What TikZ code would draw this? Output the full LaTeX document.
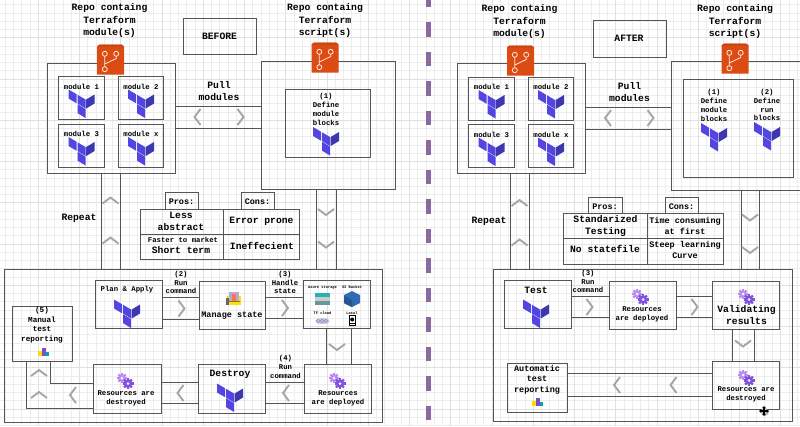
\documentclass[tikz,border=0pt]{standalone}
\usepackage{fontspec}
\setmainfont{Liberation Mono}
\usepackage{xcolor}
\usepackage{tikz}
\usetikzlibrary{positioning}
\usetikzlibrary{calc}

\definecolor{boxline}{HTML}{555555}
\definecolor{chevline}{HTML}{A6A6A6}
\definecolor{tfmain}{HTML}{5346E0}
\definecolor{tfdark}{HTML}{3D38B0}
\definecolor{repoorange}{HTML}{DD4B14}
\definecolor{repodark}{HTML}{C9440F}
\definecolor{gearlt}{HTML}{B78CF2}
\definecolor{geardk}{HTML}{8250DF}
\definecolor{divider}{HTML}{8A6A9E}
\definecolor{bluecube}{HTML}{2F6CB5}
\definecolor{bluecubed}{HTML}{24568F}

\tikzset{
    boxn/.style={draw=boxline, line width=0.9pt, inner sep=0pt},
    stepn/.style={boxn, line width=1pt},
    pipe/.style={draw=boxline, line width=0.9pt},
    txtbig/.style={font=\bfseries\fontsize{9.7}{12.4}\selectfont, align=center, inner sep=0pt},
    txtmid/.style={font=\bfseries\fontsize{8.5}{11}\selectfont, align=center, inner sep=0pt},
    txtsmall/.style={font=\bfseries\fontsize{7.3}{8.8}\selectfont, align=center, inner sep=0pt},
    txttiny/.style={font=\bfseries\fontsize{3.7}{4}\selectfont, align=center, inner sep=0pt},
    pics/chevron/.style={code={
        \draw[chevline, line width=1.9pt] (-3,-8) -- (3,0) -- (-3,8);
    }},
    pics/tflogo/.style={code={
        \fill[tfmain] (-13,0) -- (-5,4.7) -- (-5,13.7) -- (-13,9) -- cycle;
        \fill[tfmain] (-4,5.3) -- (4,10) -- (4,19) -- (-4,14) -- cycle;
        \fill[tfdark] (4.7,10) -- (13,5) -- (13,14) -- (4.7,19) -- cycle;
        \fill[tfmain] (-4,14.6) -- (4,19.6) -- (4,28.5) -- (-4,23.6) -- cycle;
    }},
    pics/repoicon/.style={code={
        \fill[repoorange] (-13.5,-13) -- (-11,-15) -- (11,-15) -- (13.5,-13) -- (13.5,15) -- (-13.5,15) -- cycle;
        \fill[repodark] (-13.5,-13) -- (-11,-15) -- (11,-15) -- (13.5,-13) -- cycle;
        \draw[white!85!orange, line width=0.8pt]
            (-5.7,-5.7) circle (2.5) (5.7,-5.7) circle (2.5) (-5.7,9.7) circle (2.5)
            (-5.7,-3.2) -- (-5.7,7.2)
            (5.7,-3.2) -- (5.7,-1) -- (-5.7,4.5);
    }},
    pics/gearset/.style={code={
        \foreach \cx/\cy/\rr/\col in {-4/-3/3.8/gearlt, 2/2.5/4.3/geardk}
        {
        \fill[\col] (\cx,\cy) circle (\rr);
        \foreach \a in {0,45,...,315}
            \fill[\col, shift={(\cx,\cy)}, rotate=\a] (\rr-0.5,-1.1) rectangle (\rr+1.2,1.1);
        \fill[white!90!\col] (\cx,\cy) circle (1.5);
        }
    }},
    pics/barsicon/.style={code={
        \fill[yellow!80!orange] (-5,-1) rectangle (-1,4);
        \fill[violet!60!blue!70] (-1,-4) rectangle (3,4);
        \fill[teal!70!cyan] (3,0) rectangle (6,4);
    }},
}

\begin{document}
\begin{tikzpicture}[x=1pt, y=-1pt]
    \useasboundingbox (0,0) rectangle (800,426);
    \clip (0,0) rectangle (800,426);
    \fill[white] (0,0) rectangle (800,426);
    % Grid
    \foreach \gx in {5,13.25,...,800}
        \draw[black!7, line width=0.5pt] (\gx,0) -- (\gx,426);
    \foreach \gy in {4.5,12.75,...,426}
        \draw[black!7, line width=0.5pt] (0,\gy) -- (800,\gy);
    \foreach \gx in {38,79.25,...,800}
        \draw[black!12, line width=0.5pt] (\gx,0) -- (\gx,426);
    \foreach \gy in {37.5,78.75,...,426}
        \draw[black!12, line width=0.5pt] (0,\gy) -- (800,\gy);
    % Divider
    \foreach \dy in {-7.5,22,...,420}
        \fill[divider] (426,\dy) rectangle (431,\dy+14.5);

    %%% BEFORE
    % Titles
    \node[txtbig] (titlemodL) at (109.5,20.5) {Repo containg\\Terraform\\module(s)};
    \node[txtbig] (titlescrL) at (325,20.5) {Repo containg\\Terraform\\script(s)};
    \node[boxn, minimum width=73pt, minimum height=36pt] (tagL) at (219.5,36) {};
    \node[txtbig] (tagLtxt) at (219.5,36) {BEFORE};
    % Repos
    \node[boxn, minimum width=128pt, minimum height=110pt] (modrepoL) at (111,118) {};
    \node[boxn, minimum width=134pt, minimum height=128pt] (scrrepoL) at (328,125) {};
    \node[boxn, minimum width=85pt, minimum height=68pt] (defL) at (327.5,123) {};
    \pic at (110.5,59.5) {repoicon};
    \pic at (325,57.5) {repoicon};
    \foreach \nm/\cx/\cy/\lbl in {a/81.5/98/module 1, b/141/98/module 2, c/81.5/145.5/module 3, d/141/145.5/module x}
    {
    \node[boxn, minimum width=45.5pt, minimum height=43pt] (mod\nm L) at (\cx,\cy) {};
    \node[txtsmall] (mod\nm Ltxt) at (\cx,\cy-11.5) {\lbl};
    \pic at (\cx,\cy-8.5) {tflogo};
    }
    \node[txtsmall] (defLtxt) at (326,109.5) {(1)\\Define\\module\\blocks};
    \pic at (326,127) {tflogo};
    % Pull modules
    \node[txtbig] (pullL) at (219,91) {Pull\\modules};
    \foreach \yy in {106,128}
        \draw[pipe] (modrepoL.east |- 0,\yy) -- (scrrepoL.west |- 0,\yy);
    \pic[rotate=180] at (197.5,117) {chevron};
    \pic at (240.5,117) {chevron};
    % Vertical links
    \node[txtbig] (repeatL) at (79,218) {Repeat};
    \foreach \xx in {101,120}
        \draw[pipe] (modrepoL.south -| \xx,0) -- (\xx,269);
    \foreach \xx in {316,336}
        \draw[pipe] (scrrepoL.south -| \xx,0) -- (\xx,269);
    \foreach \yy in {200.5,240.5}
        \pic[rotate=90] at (110.5,\yy) {chevron};
    \foreach \yy in {212,244.5}
        \pic[rotate=-90] at (326,\yy) {chevron};
    % Pros and cons
    \node[boxn, minimum width=33pt, minimum height=17pt] (prosL) at (181.5,200.5) {};
    \node[txtmid] (prosLtxt) at (181.5,202) {Pros:};
    \node[boxn, minimum width=33pt, minimum height=17pt] (consL) at (257.5,200.5) {};
    \node[txtmid] (consLtxt) at (257.5,202) {Cons:};
    \node[boxn, minimum width=83pt, minimum height=25pt] (tabaL) at (181.5,221.5) {};
    \node[boxn, minimum width=76pt, minimum height=25pt] (tabbL) at (261,221.5) {};
    \node[boxn, minimum width=83pt, minimum height=25pt] (tabcL) at (181.5,246.5) {};
    \node[boxn, minimum width=76pt, minimum height=25pt] (tabdL) at (261,246.5) {};
    \node[txtbig] (tabaLtxt) at (181,221.5) {Less\\abstract};
    \node[txtbig] (tabbLtxt) at (261.5,221) {Error prone};
    \node[txtsmall] (tabcLtxta) at (183,239.5) {Faster to market};
    \node[txtbig] (tabcLtxtb) at (181,250.5) {Short term};
    \node[txtbig] (tabdLtxt) at (262,245.5) {Ineffecient};
    % Pipeline frame
    \node[boxn, minimum width=378pt, minimum height=153pt] (frameL) at (193,345.5) {};
    \node[stepn, minimum width=67pt, minimum height=47.5pt] (planL) at (128.5,304.5) {};
    \node[stepn, minimum width=66pt, minimum height=48pt] (stateL) at (232,305) {};
    \node[stepn, minimum width=67pt, minimum height=47.5pt] (storeL) at (336.5,304.5) {};
    \node[stepn, minimum width=67pt, minimum height=49pt] (deplL) at (337.5,388.5) {};
    \node[stepn, minimum width=67pt, minimum height=49pt] (destrL) at (231.5,388.5) {};
    \node[stepn, minimum width=68pt, minimum height=49pt] (goneL) at (127,388.5) {};
    \node[stepn, minimum width=60pt, minimum height=55pt] (manualL) at (42,333.5) {};
    \node[txtsmall] (planLtxt) at (127,290) {Plan \& Apply};
    \pic at (127,299.5) {tflogo};
    \node[txtmid] (stateLtxt) at (232,315.5) {Manage state};
    \fill[yellow!85!orange] (226.5,296) rectangle (240.5,304.5);
    \fill[black!60] (226,298) rectangle (229,305);
    \fill[blue!25!gray!50] (228.5,291.5) rectangle (238.5,301);
    \fill[red!60!orange!70] (231.5,294) rectangle (235.5,301);
    \draw[yellow!40!black, line width=0.5pt] (229,301.5) -- (240,301.5);
    % Storage box
    \node[txttiny] (storeAtxt) at (322.5,287.5) {Azure storage};
    \node[txttiny] (storeBtxt) at (352,287.5) {S3 Bucket};
    \node[txttiny] (storeCtxt) at (322.5,313.5) {TF cloud};
    \node[txttiny] (storeDtxt) at (352,313) {Local};
    \fill[teal!70!cyan!85] (315,293) rectangle (330,296.5);
    \fill[black!20] (315,297) rectangle (330,300.5);
    \fill[teal!50!gray!80] (315,301) rectangle (330,305);
    \fill[bluecube] (352,291) -- (360,295) -- (360,303) -- (352,307) -- (344,303) -- (344,295) -- cycle;
    \fill[bluecubed] (344.5,296) -- (352,300) -- (352,307) -- (344,303) -- cycle;
    \fill[blue!25!gray!35] (322.5,321) ellipse (7 and 3);
    \foreach \cx in {318,322,326}
        \draw[blue!30!gray!70, line width=0.5pt] (\cx,321) circle (1.7);
    \fill[white] (349,315.5) rectangle (355.5,325);
    \draw[black, line width=0.6pt] (349,315.5) rectangle (355.5,325);
    \fill[black] (352.2,319.5) circle (2);
    \fill[black] (350,322.5) rectangle (354.5,324);
    % Horizontal links
    \node[txtsmall] (cmdaLtxt) at (181,282.5) {(2)\\Run\\command};
    \node[txtsmall] (cmdbLtxt) at (285,282.5) {(3)\\Handle\\state};
    \node[txtsmall] (cmdcLtxt) at (285.5,367) {(4)\\Run\\command};
    \foreach \yy in {297,319}
        \draw[pipe] (planL.east |- 0,\yy) -- (stateL.west |- 0,\yy);
    \foreach \yy in {297,318}
        \draw[pipe] (stateL.east |- 0,\yy) -- (storeL.west |- 0,\yy);
    \foreach \yy in {382,403}
        \draw[pipe] (deplL.west |- 0,\yy) -- (destrL.east |- 0,\yy);
    \foreach \yy in {382.5,403}
        \draw[pipe] (destrL.west |- 0,\yy) -- (goneL.east |- 0,\yy);
    \foreach \xx in {326,351}
        \draw[pipe] (storeL.south -| \xx,0) -- (deplL.north -| \xx,0);
    \pic at (181.5,308.5) {chevron};
    \pic at (285,308) {chevron};
    \pic[rotate=-90] at (337,347) {chevron};
    \pic[rotate=180] at (286,393) {chevron};
    \pic[rotate=180] at (180.5,393) {chevron};
    % Bottom row
    \pic at (338,381) {gearset};
    \node[txtsmall] (deplLtxt) at (338,398.5) {Resources\\are deployed};
    \node[txtbig] (destrLtxt) at (230,374) {Destroy};
    \pic at (230,383.5) {tflogo};
    \pic at (126,381) {gearset};
    \node[txtsmall] (goneLtxt) at (126,398.5) {Resources are\\destroyed};
    \node[txtsmall, font=\bfseries\fontsize{7.7}{9.6}\selectfont] (manualLtxt) at (42,325) {(5)\\Manual\\test\\reporting};
    \pic at (42.5,351.5) {barsicon};
    % Link back to the report box
    \draw[pipe] (goneL.west |- 0,408) -| (manualL.south -| 26,0);
    \draw[pipe] (goneL.west |- 0,383) -| (manualL.south -| 50,0);
    \pic[rotate=180] at (73,395) {chevron};
    \foreach \yy in {373,395}
        \pic[rotate=90] at (39,\yy) {chevron};

    %%% AFTER
    % Titles
    \node[txtbig] (titlemodR) at (519.5,21.5) {Repo containg\\Terraform\\module(s)};
    \node[txtbig] (titlescrR) at (735,21.5) {Repo containg\\Terraform\\script(s)};
    \node[boxn, minimum width=73pt, minimum height=37pt] (tagR) at (629.5,38.5) {};
    \node[txtbig] (tagRtxt) at (629,38.5) {AFTER};
    % Repos
    \node[boxn, minimum width=128pt, minimum height=110pt] (modrepoR) at (521,118.5) {};
    \node[boxn, minimum width=134pt, minimum height=129pt] (scrrepoR) at (738,125.5) {};
    \node[boxn, minimum width=110pt, minimum height=98.5pt] (defR) at (738,128.5) {};
    \pic at (520.5,60.5) {repoicon};
    \pic at (735,58.5) {repoicon};
    \foreach \nm/\cx/\cy/\lbl in {a/491.5/98.5/module 1, b/551/98.5/module 2, c/491.5/146/module 3, d/551/146/module x}
    {
    \node[boxn, minimum width=45.5pt, minimum height=43pt] (mod\nm R) at (\cx,\cy) {};
    \node[txtsmall] (mod\nm Rtxt) at (\cx,\cy-11.5) {\lbl};
    \pic at (\cx,\cy-8.5) {tflogo};
    }
    \node[txtsmall] (defaRtxt) at (714,105.5) {(1)\\Define\\module\\blocks};
    \node[txtsmall] (defbRtxt) at (767,105) {(2)\\Define\\run\\blocks};
    \pic at (714,123) {tflogo};
    \pic at (767,122) {tflogo};
    % Pull modules
    \node[txtbig] (pullR) at (629.5,92) {Pull\\modules};
    \foreach \yy in {107,129}
        \draw[pipe] (modrepoR.east |- 0,\yy) -- (scrrepoR.west |- 0,\yy);
    \pic[rotate=180] at (608,118) {chevron};
    \pic at (650.5,118) {chevron};
    % Vertical links
    \node[txtbig] (repeatR) at (489,221) {Repeat};
    \foreach \xx in {510,529}
        \draw[pipe] (modrepoR.south -| \xx,0) -- (\xx,269);
    \foreach \xx in {741,759}
        \draw[pipe] (scrrepoR.south -| \xx,0) -- (\xx,269);
    \foreach \yy in {203,242.5}
        \pic[rotate=90] at (519.5,\yy) {chevron};
    \foreach \yy in {217.5,250}
        \pic[rotate=-90] at (750,\yy) {chevron};
    % Pros and cons
    \node[boxn, minimum width=34pt, minimum height=16pt] (prosR) at (605,205) {};
    \node[txtmid] (prosRtxt) at (605,206.5) {Pros:};
    \node[boxn, minimum width=33pt, minimum height=16pt] (consR) at (681.5,205) {};
    \node[txtmid] (consRtxt) at (681.5,206.5) {Cons:};
    \node[boxn, minimum width=84pt, minimum height=25pt] (tabaR) at (605,225.5) {};
    \node[boxn, minimum width=76pt, minimum height=25pt] (tabbR) at (685,225.5) {};
    \node[boxn, minimum width=84pt, minimum height=26pt] (tabcR) at (605,251) {};
    \node[boxn, minimum width=76pt, minimum height=26pt] (tabdR) at (685,251) {};
    \node[txtbig] (tabaRtxt) at (605.5,226) {Standarized\\Testing};
    \node[txtmid] (tabbRtxt) at (685,225.5) {Time consuming\\at first};
    \node[txtbig] (tabcRtxt) at (605,249) {No statefile};
    \node[txtmid] (tabdRtxt) at (685,249.5) {Steep learning\\Curve};
    % Pipeline frame
    \node[boxn, minimum width=299pt, minimum height=152pt] (frameR) at (642.5,345) {};
    \node[stepn, minimum width=67pt, minimum height=47.5pt] (testR) at (537.5,304.5) {};
    \node[stepn, minimum width=67pt, minimum height=48pt] (deplR) at (642.5,305) {};
    \node[stepn, minimum width=67pt, minimum height=48pt] (validR) at (745.5,305) {};
    \node[stepn, minimum width=67pt, minimum height=48pt] (goneR) at (745.5,385) {};
    \node[stepn, minimum width=60pt, minimum height=49pt] (autoR) at (537,387.5) {};
    \node[txtbig] (testRtxt) at (536,290) {Test};
    \pic at (536,299.5) {tflogo};
    \pic at (641,297) {gearset};
    \node[txtsmall] (deplRtxt) at (642,314.5) {Resources\\are deployed};
    \pic at (747,297) {gearset};
    \node[txtbig] (validRtxt) at (746.5,315) {Validating\\results};
    \pic at (747,378) {gearset};
    \node[txtsmall] (goneRtxt) at (746,394.5) {Resources are\\destroyed};
    \node[txtmid, font=\bfseries\fontsize{8.5}{10.4}\selectfont] (autoRtxt) at (537,379.5) {Automatic\\test\\reporting};
    \pic at (537,402) {barsicon};
    % Horizontal links
    \node[txtsmall] (cmdRtxt) at (588,281.5) {(3)\\Run\\command};
    \foreach \yy in {296,317}
    {
    \draw[pipe] (testR.east |- 0,\yy) -- (deplR.west |- 0,\yy);
    \draw[pipe] (deplR.east |- 0,\yy) -- (validR.west |- 0,\yy);
    }
    \foreach \xx in {732,754}
        \draw[pipe] (validR.south -| \xx,0) -- (goneR.north -| \xx,0);
    \foreach \yy in {373,396}
        \draw[pipe] (goneR.west |- 0,\yy) -- (autoR.east |- 0,\yy);
    \pic at (589.5,307) {chevron};
    \pic at (694.5,307) {chevron};
    \pic[rotate=-90] at (743,343.5) {chevron};
    \pic[rotate=180] at (617,385) {chevron};
    \pic[rotate=180] at (673.5,385) {chevron};
    % Cursor
    \fill[black!25] (765,412) circle (4);
    \draw[black, line width=1.1pt] (761,411) -- (767,411) (764,408) -- (764,414);
    \fill[black] (764,406) -- (762,408.2) -- (766,408.2) -- cycle
                 (764,416) -- (762,413.8) -- (766,413.8) -- cycle
                 (759,411) -- (761.2,409) -- (761.2,413) -- cycle
                 (769,411) -- (766.8,409) -- (766.8,413) -- cycle;
\end{tikzpicture}
\end{document}
